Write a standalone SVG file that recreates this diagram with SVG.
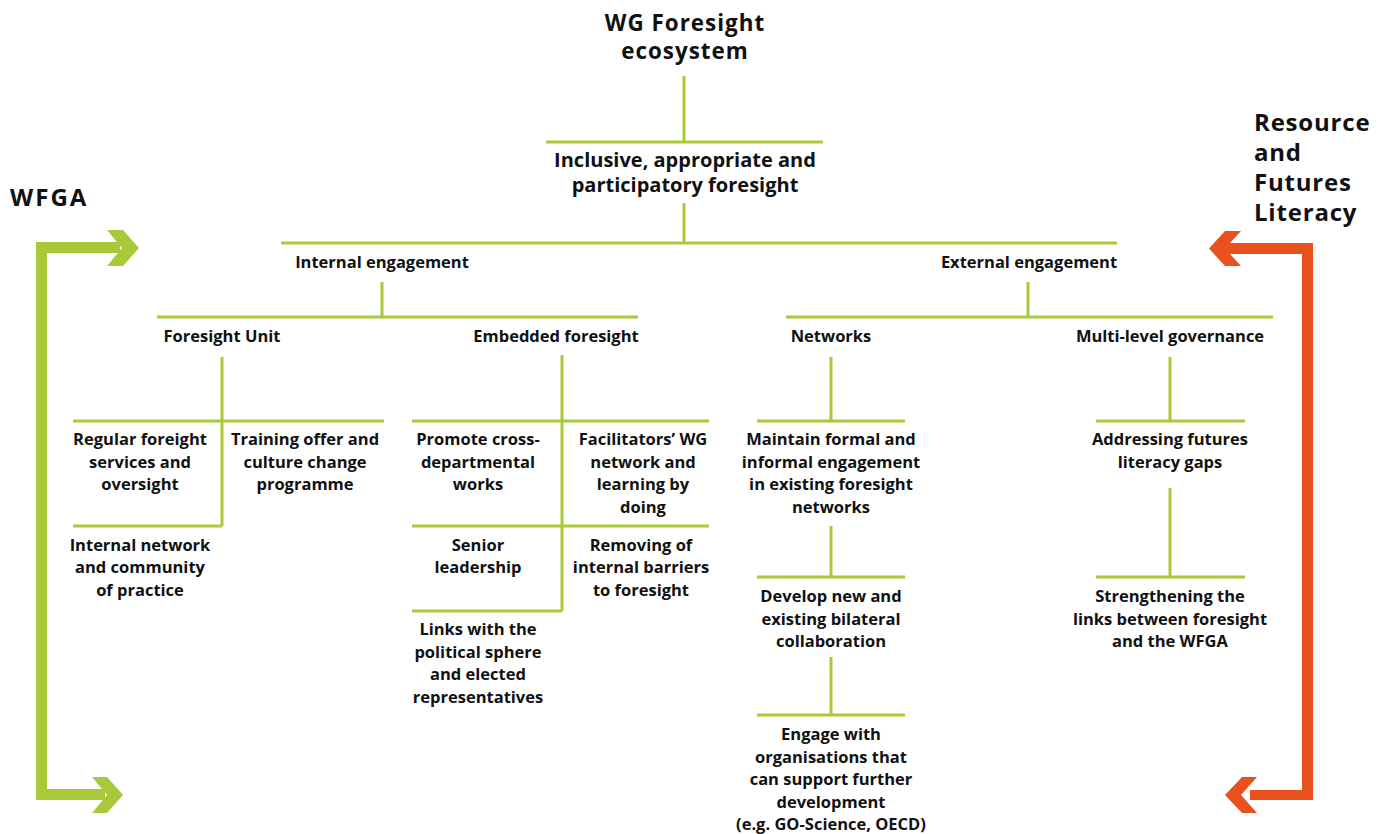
<svg xmlns="http://www.w3.org/2000/svg" width="1388" height="834" viewBox="0 0 1388 834">
  <style>
    .t { font-family: "Open Sans", Lato, "Liberation Sans", sans-serif; font-weight: 700; fill: #111; }
    .title { font-size: 22.4px; letter-spacing: 1px; text-anchor: middle; }
    .side { font-size: 24px; letter-spacing: 0.8px; }
    .wf { font-size: 24px; letter-spacing: 2px; }
    .l1 { font-size: 20px; text-anchor: middle; }
    .l2 { font-size: 16.5px; text-anchor: middle; }
    .ln { stroke: #a9c93a; stroke-width: 3; fill: none; }
  </style>
  <rect width="1388" height="834" fill="#ffffff"/>

  <!-- Tree connectors -->
  <g id="connectors" class="ln">
    <path d="M684 76V142M546 142H823M684 203V243M281 243H1117"/>
    <path d="M382 282V317M157 317H638"/>
    <path d="M1028 282V317M786 317H1273"/>
    <path d="M222 357V526M73 421H384M73 526H222"/>
    <path d="M562 355V611M412 421H709M412 526H709M412 611H562"/>
    <path d="M831 357V421M757 421H905M831 526V577M757 577H905M831 657V715M757 715H905"/>
    <path d="M1170 357V421M1096 421H1245M1170 488V577M1096 577H1245"/>
  </g>

  <!-- Side arrows -->
  <g id="wfga-arrow" fill="#a9c93a">
    <path d="M36 242H120V253H47V789H105V800H36Z"/>
    <polygon points="107,230 123,230 139,248 123,266 107,266 122,248"/>
    <polygon points="92,777 107,777 123,795 107,813 92,813 107,795"/>
  </g>
  <g id="literacy-arrow" fill="#e8501e">
    <path d="M1313 243H1220V254H1302V790H1250V800H1313Z"/>
    <polygon points="1241,231 1225,231 1209,248.5 1225,266 1241,266 1225,248.5"/>
    <polygon points="1257,777 1242,777 1225,795 1242,813 1257,813 1241,795"/>
  </g>

  <g id="wfga" class="t wf"><text x="10" y="206">WFGA</text></g>
  <g id="resource" class="t side">
    <text x="1254" y="131">Resource</text>
    <text x="1254" y="161">and</text>
    <text x="1254" y="191">Futures</text>
    <text x="1254" y="221">Literacy</text>
  </g>

  <g id="root" class="t title">
    <text x="685" y="31">WG Foresight</text>
    <text x="685" y="59">ecosystem</text>
  </g>
  <g id="inclusive" class="t l1">
    <text x="685" y="167">Inclusive, appropriate and</text>
    <text x="685" y="192">participatory foresight</text>
  </g>

  <g id="internal" class="t l2"><text x="382" y="268">Internal engagement</text></g>
  <g id="external" class="t l2"><text x="1029" y="268">External engagement</text></g>

  <g id="foresight-unit" class="t l2"><text x="222" y="342">Foresight Unit</text></g>
  <g id="embedded" class="t l2"><text x="556" y="342">Embedded foresight</text></g>
  <g id="networks" class="t l2"><text x="831" y="342">Networks</text></g>
  <g id="multilevel" class="t l2"><text x="1170" y="342">Multi-level governance</text></g>

  <g id="regular" class="t l2">
    <text x="140" y="445">Regular foreight</text>
    <text x="140" y="467.5">services and</text>
    <text x="140" y="490">oversight</text>
  </g>
  <g id="training" class="t l2">
    <text x="305" y="445">Training offer and</text>
    <text x="305" y="467.5">culture change</text>
    <text x="305" y="490">programme</text>
  </g>
  <g id="internal-network" class="t l2">
    <text x="140" y="550.5">Internal network</text>
    <text x="140" y="573">and community</text>
    <text x="140" y="595.5">of practice</text>
  </g>

  <g id="promote" class="t l2">
    <text x="478" y="445">Promote cross-</text>
    <text x="478" y="467.5">departmental</text>
    <text x="478" y="490">works</text>
  </g>
  <g id="facilitators" class="t l2">
    <text x="643" y="445">Facilitators’ WG</text>
    <text x="643" y="467.5">network and</text>
    <text x="643" y="490">learning by</text>
    <text x="643" y="512.5">doing</text>
  </g>
  <g id="senior" class="t l2">
    <text x="478" y="550.5">Senior</text>
    <text x="478" y="573">leadership</text>
  </g>
  <g id="removing" class="t l2">
    <text x="641" y="550.5">Removing of</text>
    <text x="641" y="573">internal barriers</text>
    <text x="641" y="595.5">to foresight</text>
  </g>
  <g id="links" class="t l2">
    <text x="478" y="635">Links with the</text>
    <text x="478" y="657.5">political sphere</text>
    <text x="478" y="680">and elected</text>
    <text x="478" y="702.5">representatives</text>
  </g>

  <g id="maintain" class="t l2">
    <text x="831" y="445">Maintain formal and</text>
    <text x="831" y="467.5">informal engagement</text>
    <text x="831" y="490">in existing foresight</text>
    <text x="831" y="512.5">networks</text>
  </g>
  <g id="develop" class="t l2">
    <text x="831" y="602">Develop new and</text>
    <text x="831" y="624.5">existing bilateral</text>
    <text x="831" y="647">collaboration</text>
  </g>
  <g id="engage" class="t l2">
    <text x="831" y="740">Engage with</text>
    <text x="831" y="762.5">organisations that</text>
    <text x="831" y="785">can support further</text>
    <text x="831" y="807.5">development</text>
    <text x="831" y="830">(e.g. GO-Science, OECD)</text>
  </g>

  <g id="addressing" class="t l2">
    <text x="1170" y="445">Addressing futures</text>
    <text x="1170" y="467.5">literacy gaps</text>
  </g>
  <g id="strengthening" class="t l2">
    <text x="1170" y="602">Strengthening the</text>
    <text x="1170" y="624.5">links between foresight</text>
    <text x="1170" y="647">and the WFGA</text>
  </g>
</svg>
